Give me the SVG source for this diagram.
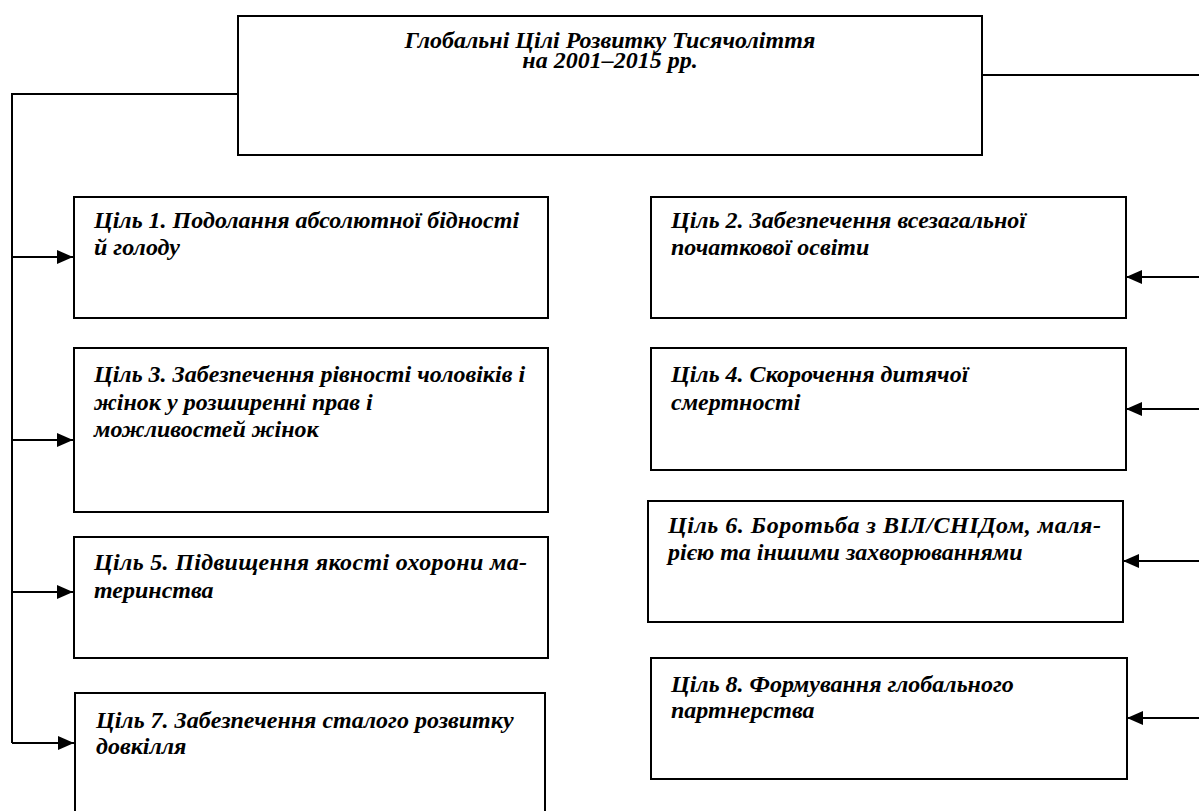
<svg xmlns="http://www.w3.org/2000/svg" width="1199" height="811" viewBox="0 0 1199 811">
<defs>
<style>
.box{fill:#fff;stroke:#000;stroke-width:2}
.t{font-family:"Liberation Serif","Times New Roman",serif;font-weight:bold;font-style:italic;font-size:24px;fill:#000}
.c{fill:none;stroke:#000;stroke-width:2}
</style>
<marker id="ah" viewBox="0 0 16 14" refX="16" refY="7" markerWidth="16" markerHeight="14" markerUnits="userSpaceOnUse" orient="auto">
<path d="M0,0 L16,7 L0,14 Z" fill="#000"/>
</marker>
</defs>
<rect width="1199" height="811" fill="#fff"/>
<g id="connectors">
<path class="c" d="M238,94 H12 V743"/>
<path class="c" d="M12,257 H73" marker-end="url(#ah)"/>
<path class="c" d="M12,440 H73" marker-end="url(#ah)"/>
<path class="c" d="M12,592 H73" marker-end="url(#ah)"/>
<path class="c" d="M12,743 H74" marker-end="url(#ah)"/>
<path class="c" d="M982,75 H1201 V718"/>
<path class="c" d="M1201,277 H1126" marker-end="url(#ah)"/>
<path class="c" d="M1201,409 H1126" marker-end="url(#ah)"/>
<path class="c" d="M1201,561 H1123" marker-end="url(#ah)"/>
<path class="c" d="M1201,718 H1127" marker-end="url(#ah)"/>
</g>
<g id="top">
<rect class="box" x="238" y="16" width="744" height="139"/>
<text class="t" x="610" y="48" text-anchor="middle">Глобальні Цілі Розвитку Тисячоліття</text>
<text class="t" x="610" y="68" text-anchor="middle">на 2001–2015 рр.</text>
</g>
<g id="goal1">
<rect class="box" x="74" y="197" width="474" height="121"/>
<text class="t" x="94" y="228">Ціль 1. Подолання абсолютної бідності</text>
<text class="t" x="94" y="255">й голоду</text>
</g>
<g id="goal2">
<rect class="box" x="651" y="197" width="475" height="121"/>
<text class="t" x="671" y="228">Ціль 2. Забезпечення всезагальної</text>
<text class="t" x="671" y="255">початкової освіти</text>
</g>
<g id="goal3">
<rect class="box" x="74" y="348" width="474" height="164"/>
<text class="t" x="94" y="382">Ціль 3. Забезпечення рівності чоловіків і</text>
<text class="t" x="94" y="410">жінок у розширенні прав і</text>
<text class="t" x="94" y="437">можливостей жінок</text>
</g>
<g id="goal4">
<rect class="box" x="651" y="348" width="475" height="122"/>
<text class="t" x="671" y="382">Ціль 4. Скорочення дитячої</text>
<text class="t" x="671" y="410">смертності</text>
</g>
<g id="goal5">
<rect class="box" x="74" y="537" width="474" height="121"/>
<text class="t" x="94" y="570" textLength="433" lengthAdjust="spacing">Ціль 5. Підвищення якості охорони ма-</text>
<text class="t" x="94" y="598">теринства</text>
</g>
<g id="goal6">
<rect class="box" x="648" y="501" width="475" height="121"/>
<text class="t" x="668" y="533" textLength="433" lengthAdjust="spacing">Ціль 6. Боротьба з ВІЛ/СНІДом, маля-</text>
<text class="t" x="668" y="560">рією та іншими захворюваннями</text>
</g>
<g id="goal7">
<rect class="box" x="75" y="693" width="470" height="140"/>
<text class="t" x="96" y="728">Ціль 7. Забезпечення сталого розвитку</text>
<text class="t" x="96" y="754">довкілля</text>
</g>
<g id="goal8">
<rect class="box" x="651" y="658" width="476" height="121"/>
<text class="t" x="671" y="692">Ціль 8. Формування глобального</text>
<text class="t" x="671" y="718">партнерства</text>
</g>
</svg>
